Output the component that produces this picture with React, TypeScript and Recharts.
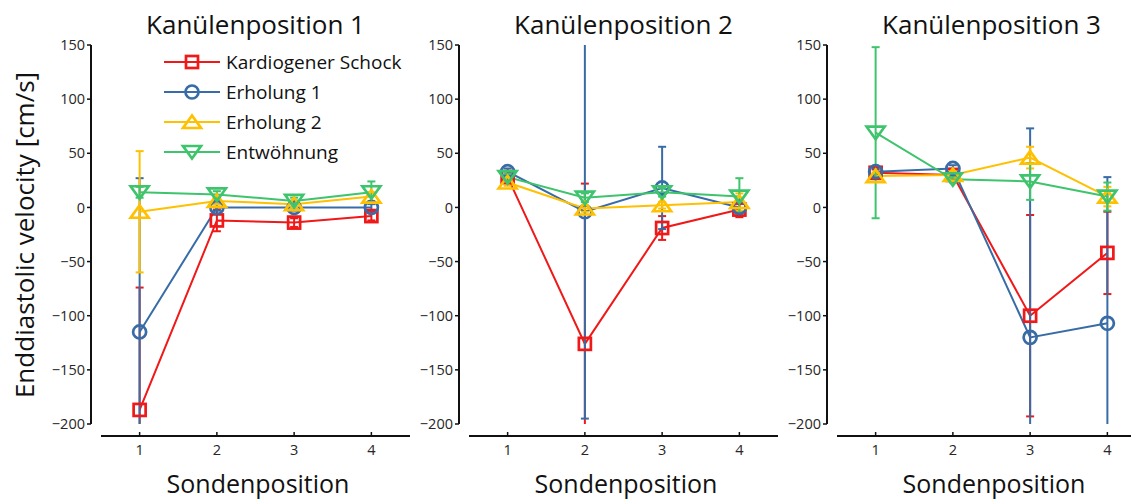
import React from 'react';
import { LineChart, Line, XAxis, YAxis, ErrorBar, Legend, ReferenceLine } from 'recharts';

const FONT = '"Open Sans", sans-serif';

const POSITIONS = [1, 2, 3, 4];
const X_TICKS = [1, 2, 3, 4];
const Y_TICKS = [-200, -150, -100, -50, 0, 50, 100, 150];
const Y_MIN = -200;
const Y_MAX = 150;
const PANEL_TITLES = ['Kanülenposition 1', 'Kanülenposition 2', 'Kanülenposition 3'];
const SERIES_NAMES = ['Kardiogener Schock', 'Erholung 1', 'Erholung 2', 'Entwöhnung'];

// Kanülenposition 1
const SCHOCK_1 = [-187, -12, -14, -8];
const SCHOCK_1_SD = [113, 10, 4, 4];
const ERH1_1 = [-115, 0, 0, 0];
const ERH1_1_SD = [142, 3, 3, 3];
const ERH2_1 = [-4, 6, 3, 10];
const ERH2_1_SD = [56, 3, 3, 4];
const ENTW_1 = [14, 12, 6, 14];
const ENTW_1_SD = [5, 3, 3, 10];

// Kanülenposition 2
const SCHOCK_2 = [28, -126, -19, -2];
const SCHOCK_2_SD = [3, 148, 11, 7];
const ERH1_2 = [33, -4, 18, 0];
const ERH1_2_SD = [3, 191, 38, 4];
const ERH2_2 = [23, -1, 2, 5];
const ERH2_2_SD = [3, 3, 3, 8];
const ENTW_2 = [28, 9, 14, 10];
const ENTW_2_SD = [3, 4, 4, 17];

// Kanülenposition 3
const SCHOCK_3 = [32, 30, -100, -42];
const SCHOCK_3_SD = [3, 3, 93, 38];
const ERH1_3 = [33, 36, -120, -107];
const ERH1_3_SD = [3, 3, 193, 135];
const ERH2_3 = [29, 30, 46, 10];
const ERH2_3_SD = [3, 3, 10, 9];
const ENTW_3 = [69, 26, 24, 10];
const ENTW_3_SD = [79, 3, 17, 13];

const SERIES = [
  { key: 'schock', color: '#f01818', shape: 'square' },
  { key: 'erh1', color: '#386ca6', shape: 'circle' },
  { key: 'erh2', color: '#ffc000', shape: 'up' },
  { key: 'entw', color: '#3ec46c', shape: 'down' },
];

const PANELS = [
  [[SCHOCK_1, SCHOCK_1_SD], [ERH1_1, ERH1_1_SD], [ERH2_1, ERH2_1_SD], [ENTW_1, ENTW_1_SD]],
  [[SCHOCK_2, SCHOCK_2_SD], [ERH1_2, ERH1_2_SD], [ERH2_2, ERH2_2_SD], [ENTW_2, ENTW_2_SD]],
  [[SCHOCK_3, SCHOCK_3_SD], [ERH1_3, ERH1_3_SD], [ERH2_3, ERH2_3_SD], [ENTW_3, ENTW_3_SD]],
];

const buildRows = (panel: number[][][]) =>
  POSITIONS.map((pos, i) => {
    const row: any = { pos };
    SERIES.forEach((s, k) => {
      row[s.key] = panel[k][0][i];
      row[s.key + 'Err'] = panel[k][1][i];
    });
    return row;
  });

const CHART_W = 414;
const CHART_H = 501;
const PANEL_LEFT = [0, 368, 736];
const PLOT_TOP = 45;
const PLOT_H = 379;
const AXIS_GAP = 12; // x axis sits a little below the y range (detached axes)
const X_AXIS_LEVEL = Y_MIN - (AXIS_GAP * (Y_MAX - Y_MIN)) / PLOT_H;

function Marker({ shape, cx, cy, color }: any) {
  const common = { fill: 'none', stroke: color, strokeWidth: 2.7 };
  if (shape === 'square') return <rect x={cx - 6} y={cy - 6} width={12} height={12} {...common} />;
  if (shape === 'circle') return <circle cx={cx} cy={cy} r={6.5} {...common} />;
  if (shape === 'up')
    return <polygon points={`${cx},${cy - 6.5} ${cx + 9},${cy + 6} ${cx - 9},${cy + 6}`} {...common} />;
  return <polygon points={`${cx},${cy + 6.5} ${cx + 9},${cy - 6} ${cx - 9},${cy - 6}`} {...common} />;
}

const XTick = ({ x, y, payload }: any) => (
  <g>
    <line x1={x} x2={x} y1={y} y2={y - 4} stroke="#111" strokeWidth={1.5} />
    <text x={x} y={y + 19} textAnchor="middle" fontSize={14.5} fill="#262626" fontFamily={FONT}>
      {payload.value}
    </text>
  </g>
);

const LegendBox = () => (
  <svg width={250} height={125}>
    {SERIES.map((s, i) => {
      const cy = 15 + i * 30;
      return (
        <g key={s.key}>
          <line x1={4} x2={60} y1={cy} y2={cy} stroke={s.color} strokeWidth={2} />
          <Marker shape={s.shape} cx={32} cy={cy} color={s.color} />
          <text x={66} y={cy + 7} fontSize={19} fill="#111" fontFamily={FONT}>
            {SERIES_NAMES[i]}
          </text>
        </g>
      );
    })}
  </svg>
);

function Panel({ index }: { index: number }) {
  const rows = buildRows(PANELS[index]);
  return (
    <div style={{ position: 'absolute', left: PANEL_LEFT[index], top: 0 }}>
      <LineChart width={CHART_W} height={CHART_H} data={rows} margin={{ top: PLOT_TOP, right: 4, bottom: 0, left: 0 }}>
        <XAxis
          type="number"
          dataKey="pos"
          domain={[0.5, 4.5]}
          ticks={X_TICKS}
          interval={0}
          allowDataOverflow
          padding={{ left: 10, right: 0 }}
          height={CHART_H - PLOT_TOP - PLOT_H}
          tickSize={0}
          tickMargin={AXIS_GAP}
          tickLine={false}
          tick={<XTick />}
          axisLine={false}
        />
        <YAxis
          type="number"
          domain={[Y_MIN, Y_MAX]}
          ticks={Y_TICKS}
          interval={0}
          allowDataOverflow
          width={91}
          tickSize={4}
          tickMargin={2}
          tickFormatter={(v: number) => String(v).replace('-', '\u2212')}
          tick={{ fontSize: 14.5, fill: '#262626', fontFamily: FONT }}
          tickLine={{ stroke: '#111', strokeWidth: 1.5 }}
          axisLine={{ stroke: '#111', strokeWidth: 2 }}
        />
        <ReferenceLine
          segment={[
            { x: 0.5, y: X_AXIS_LEVEL },
            { x: 4.5, y: X_AXIS_LEVEL },
          ]}
          stroke="#111"
          strokeWidth={2}
          ifOverflow="visible"
        />
        {index === 0 && (
          <Legend
            layout="vertical"
            align="center"
            verticalAlign="middle"
            content={<LegendBox />}
            wrapperStyle={{ left: 160, top: 47, width: 250 }}
          />
        )}
        {SERIES.map((s, k) => (
          <Line
            key={s.key}
            type="linear"
            dataKey={s.key}
            name={SERIES_NAMES[k]}
            stroke={s.color}
            strokeWidth={2}
            isAnimationActive={false}
            activeDot={false}
            dot={(p: any) => <Marker key={`${s.key}-${p.index}`} shape={s.shape} cx={p.cx} cy={p.cy} color={s.color} />}
          >
            <ErrorBar dataKey={s.key + 'Err'} direction="y" width={4} stroke={s.color} strokeWidth={2} isAnimationActive={false} />
          </Line>
        ))}
      </LineChart>
    </div>
  );
}

export default function App() {
  return (
    <div
      style={{
        position: 'absolute',
        left: 0,
        top: 0,
        width: 1131,
        height: 501,
        overflow: 'hidden',
        background: '#fff',
        fontFamily: FONT,
      }}
    >
      {/* error bars are cut at the y limits, as in the original figure */}
      <style>{'.recharts-errorBars, .recharts-errorBar { clip-path: url(#errbar-clip); }'}</style>
      <svg width={0} height={0} style={{ position: 'absolute' }}>
        <defs>
          <clipPath id="errbar-clip" clipPathUnits="userSpaceOnUse">
            <rect x={0} y={PLOT_TOP} width={CHART_W} height={PLOT_H} />
          </clipPath>
        </defs>
      </svg>
      {PANEL_TITLES.map((_, i) => (
        <Panel key={i} index={i} />
      ))}
      <svg width={1131} height={501} style={{ position: 'absolute', left: 0, top: 0, pointerEvents: 'none' }}>
        {PANEL_TITLES.map((t, i) => (
          <g key={t}>
            <text x={PANEL_LEFT[i] + 255.5} y={34} textAnchor="middle" fontSize={26} fill="#111" fontFamily={FONT}>
              {t}
            </text>
            <text x={PANEL_LEFT[i] + 258} y={493} textAnchor="middle" fontSize={25} fill="#111" fontFamily={FONT}>
              Sondenposition
            </text>
          </g>
        ))}
        <text x={34} y={235} transform="rotate(-90 34 235)" textAnchor="middle" fontSize={26} fill="#111" fontFamily={FONT}>
          Enddiastolic velocity [cm/s]
        </text>
      </svg>
    </div>
  );
}
